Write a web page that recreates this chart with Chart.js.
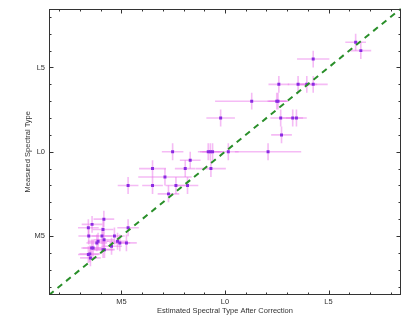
<!DOCTYPE html>
<html>
<head>
<meta charset="utf-8">
<script src="https://cdn.jsdelivr.net/npm/chart.js@4/dist/chart.umd.min.js"></script>
<style>
  body { margin: 0; background: #fff; }
  canvas { display: block; }
</style>
</head>
<body>
<canvas id="myScatterChart" width="411" height="329"></canvas>
<script>
// estimated (x) vs measured (y) spectral type, M0 = 0, L0 = 10
var estimated = [16.31, 16.56, 14.26, 12.60, 13.53, 13.95, 14.26, 11.29, 12.50, 12.56,
                 9.79, 12.69, 13.27, 13.45, 12.73, 7.47, 9.19, 9.29, 9.40, 10.16,
                 12.08, 8.32, 6.50, 8.08, 9.32, 7.10, 5.32, 6.50, 7.63, 8.19,
                 7.27, 3.40, 3.58, 4.15, 4.11, 3.42, 4.06, 4.66, 5.32, 4.16,
                 3.87, 3.81, 4.81, 4.92, 5.24, 3.56, 3.63, 4.52, 4.11, 4.18,
                 3.40, 3.47, 3.50];
var measured  = [16.5, 16.0, 15.5, 14.0, 14.0, 14.0, 14.0, 13.0, 13.0, 13.0,
                 12.0, 12.0, 12.0, 12.0, 11.0, 10.0, 10.0, 10.0, 10.0, 10.0,
                 10.0, 9.5, 9.0, 9.0, 9.0, 8.5, 8.0, 8.0, 8.0, 8.0,
                 7.5, 5.49, 5.69, 6.0, 5.39, 5.0, 5.0, 5.0, 5.49, 4.78,
                 4.69, 4.59, 4.69, 4.59, 4.59, 4.29, 4.29, 4.39, 4.19, 4.19,
                 3.9, 3.94, 3.7];
var estErr    = [0.5, 0.5, 0.78, 0.5, 0.5, 0.5, 0.7, 1.77, 0.45, 0.45,
                 0.69, 0.5, 0.5, 0.5, 0.5, 0.52, 0.5, 0.5, 0.5, 0.5,
                 1.6, 0.5, 0.65, 0.5, 0.72, 1.29, 0.5, 0.5, 0.5, 0.52,
                 0.52, 0.5, 0.5, 0.5, 0.5, 0.5, 0.5, 0.5, 0.52, 0.5,
                 0.5, 0.5, 0.5, 0.5, 0.5, 0.5, 0.5, 0.5, 0.5, 0.5,
                 0.5, 0.5, 0.5];
var measErr   = [0.5, 0.5, 0.5, 0.5, 0.5, 0.5, 0.5, 0.5, 0.5, 0.5,
                 0.5, 0.5, 0.5, 0.5, 0.5, 0.5, 0.5, 0.5, 0.5, 0.5,
                 0.5, 0.5, 0.5, 0.5, 0.5, 0.5, 0.5, 0.5, 0.5, 0.5,
                 0.5, 0.5, 0.5, 0.5, 0.5, 0.5, 0.5, 0.5, 0.5, 0.5,
                 0.5, 0.5, 0.5, 0.5, 0.5, 0.5, 0.5, 0.5, 0.5, 0.5,
                 0.5, 0.5, 0.5];
var tickValues = [2, 3, 4, 5, 6, 7, 8, 9, 10, 11, 12, 13, 14, 15, 16, 17, 18];
var tickLabels = { 5: 'M5', 10: 'L0', 15: 'L5' };
var oneToOne = [1.5, 18.5];

var points = estimated.map(function (v, i) { return { x: v, y: measured[i] }; });
var diagonal = oneToOne.map(function (v) { return { x: v, y: v }; });

// error bars, drawn under the points
var errorBars = {
    id: 'errorBars',
    beforeDatasetsDraw: function (chart) {
        var ctx = chart.ctx, xs = chart.scales.x, ys = chart.scales.y, a = chart.chartArea;
        ctx.save();
        ctx.beginPath();
        ctx.rect(a.left, a.top, a.right - a.left, a.bottom - a.top);
        ctx.clip();
        ctx.strokeStyle = 'rgba(236, 120, 236, 0.5)';
        ctx.lineWidth = 1.6;
        for (var i = 0; i < estimated.length; i++) {
            var px = xs.getPixelForValue(estimated[i]);
            var py = ys.getPixelForValue(measured[i]);
            ctx.beginPath();
            ctx.moveTo(xs.getPixelForValue(estimated[i] - estErr[i]), py);
            ctx.lineTo(xs.getPixelForValue(estimated[i] + estErr[i]), py);
            ctx.moveTo(px, ys.getPixelForValue(measured[i] - measErr[i]));
            ctx.lineTo(px, ys.getPixelForValue(measured[i] + measErr[i]));
            ctx.stroke();
        }
        ctx.restore();
    }
};

// box around the plot with inward ticks on all four sides
var frame = {
    id: 'frame',
    afterDraw: function (chart) {
        var ctx = chart.ctx, xs = chart.scales.x, ys = chart.scales.y, a = chart.chartArea;
        var l = Math.round(a.left) + 0.5, r = Math.round(a.right) - 0.5;
        var t = Math.round(a.top) + 0.5, b = Math.round(a.bottom) - 0.5;
        ctx.save();
        ctx.strokeStyle = '#333';
        ctx.lineWidth = 1;
        ctx.strokeRect(l, t, r - l, b - t);
        ctx.beginPath();
        tickValues.forEach(function (v) {
            var len = tickLabels[v] ? 4 : 2;
            var x = Math.round(xs.getPixelForValue(v)) + 0.5;
            var y = Math.round(ys.getPixelForValue(v)) + 0.5;
            ctx.moveTo(x, b); ctx.lineTo(x, b - len);
            ctx.moveTo(x, t); ctx.lineTo(x, t + len);
            ctx.moveTo(l, y); ctx.lineTo(l + len, y);
            ctx.moveTo(r, y); ctx.lineTo(r - len, y);
        });
        ctx.stroke();
        ctx.restore();
    }
};

var labelFont = { family: 'Liberation Sans, Arial, sans-serif', size: 7.5 };

var ctx_scatter = document.getElementById('myScatterChart').getContext('2d');
var chart_scatter = new Chart(ctx_scatter, {
    type: 'scatter',
    data: {
        datasets: [
            {
                type: 'line',
                data: diagonal,
                borderColor: '#2a8f2a',
                borderWidth: 2,
                borderDash: [6, 5],
                pointRadius: 0,
                fill: false
            },
            {
                data: points,
                pointStyle: 'rect',
                pointRadius: 2.1,
                pointBorderWidth: 0,
                backgroundColor: '#8a2be2',
                borderColor: '#8a2be2'
            }
        ]
    },
    options: {
        responsive: false,
        animation: false,
        devicePixelRatio: 1,
        layout: { padding: { top: 7, right: 10, left: 0, bottom: 0 } },
        plugins: { legend: { display: false }, tooltip: { enabled: false } },
        scales: {
            x: {
                type: 'linear',
                min: 1.5,
                max: 18.5,
                afterBuildTicks: function (s) { s.ticks = tickValues.map(function (v) { return { value: v }; }); },
                afterFit: function (s) { s.height = 34; },
                grid: { display: false, drawTicks: false },
                border: { display: false },
                ticks: {
                    autoSkip: false, maxRotation: 0, padding: 2,
                    color: '#333', font: labelFont,
                    callback: function (v) { return tickLabels[v] || ''; }
                },
                title: {
                    display: true,
                    text: 'Estimated Spectral Type After Correction',
                    color: '#333', font: labelFont,
                    padding: { top: 0, bottom: 14 }
                }
            },
            y: {
                type: 'linear',
                min: 1.5,
                max: 18.5,
                afterBuildTicks: function (s) { s.ticks = tickValues.map(function (v) { return { value: v }; }); },
                afterFit: function (s) { s.width = 49; },
                grid: { display: false, drawTicks: false },
                border: { display: false },
                ticks: {
                    autoSkip: false, padding: 4,
                    color: '#333', font: labelFont,
                    callback: function (v) { return tickLabels[v] || ''; }
                },
                title: {
                    display: true,
                    text: 'Measured Spectral Type',
                    color: '#333', font: labelFont,
                    padding: { top: 23, bottom: 0 }
                }
            }
        }
    },
    plugins: [errorBars, frame]
});
</script>
</body>
</html>
